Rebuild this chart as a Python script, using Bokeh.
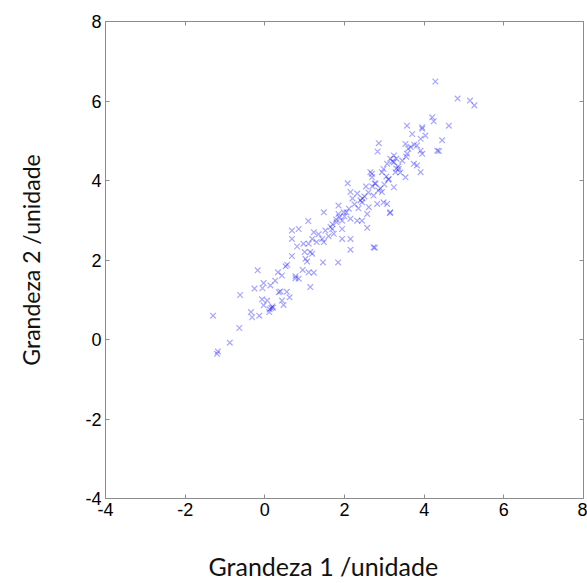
from bokeh.plotting import figure
from bokeh.models import LinearAxis, FixedTicker, Range1d, Title
from bokeh.embed import file_html
from bokeh.resources import INLINE

grandeza1 = [
    -1.20, -1.18, -1.30, -0.88, -0.64, -0.62, -0.35, -0.32, -0.14, 0.11, -0.03, -0.07, 0.06, 0.16, 0.19, 0.12,
    0.43, 0.47, 0.62, -0.26, -0.06, -0.03, 0.14, 0.26, 0.39, 0.35, -0.18, 0.33, 0.52, 0.77, 0.43, 0.77, 0.85,
    1.10, 1.23, 1.14, 0.56, 0.68, 0.81, 0.68, 0.68, 0.85, 1.02, 1.06, 1.19, 1.10, 1.19, 1.23, 1.09, 1.46, 1.84,
    1.44, 1.48, 1.52, 1.69, 1.73, 1.94, 1.79, 1.87,
    2.08, 2.69, 3.10, 2.54, 2.76, 2.15, 2.32, 2.44, 2.94, 3.07, 3.15, 2.61, 1.85, 2.11, 1.85, 1.48, 1.94, 2.32,
    2.57, 1.65, 2.15, 2.15, 2.76, 1.94, 0.97, 1.14,
    3.70, 4.03, 3.91, 4.33, 2.86, 2.83, 3.53, 3.66, 3.82, 3.57, 3.15, 3.24, 3.07, 3.45, 3.74, 3.91, 3.36, 3.28,
    2.98, 2.94, 3.11, 3.24, 2.65, 2.69, 2.78, 2.40, 2.73, 2.82, 2.98, 2.57, 1.98, 2.15, 2.44,
    4.84, 5.15, 5.26, 4.28, 4.20, 4.24, 3.95, 3.57, 4.62, 4.45, 4.37, 3.95, 3.24, 3.82, 3.53, 3.95, 3.91, 3.14, 2.73,
    3.20, 3.30, 2.05, 2.00, 2.50, 3.40, 2.90, 1.60, 2.60, 3.00, 0.20, 3.75, 3.30, 2.35, 1.80,
    1.30, 1.70, 2.25, 2.45, 2.85, 3.05, 3.35, 3.55, 0.55, 0.95, 1.35, 2.70, 3.60, 2.20, 1.00,
]
grandeza2 = [
    -0.36, -0.30, 0.60, -0.08, 0.29, 1.12, 0.69, 0.56, 0.60, 0.69, 0.86, 1.01, 0.98, 0.79, 0.83, 0.76,
    0.98, 0.87, 1.06, 1.28, 1.29, 1.42, 1.36, 1.48, 1.21, 1.19, 1.74, 1.69, 1.84, 1.54, 1.61, 1.59, 1.53,
    1.69, 1.68, 1.32, 1.88, 2.10, 2.34, 2.53, 2.74, 2.78, 2.03, 1.96, 2.16, 2.41, 2.53, 2.70, 2.98, 1.94, 1.94,
    2.53, 2.45, 2.74, 2.78, 2.66, 2.78, 3.02, 3.08,
    3.93, 4.17, 4.02, 3.85, 3.93, 3.71, 3.67, 3.45, 3.71, 3.41, 3.20, 3.33, 3.37, 3.29, 3.16, 3.20, 2.99, 2.99,
    2.81, 2.83, 2.53, 2.26, 2.31, 2.53, 2.41, 2.20,
    5.17, 5.13, 5.05, 4.75, 4.94, 4.73, 4.92, 4.84, 4.88, 4.67, 4.55, 4.46, 4.42, 4.50, 4.42, 4.21, 4.29, 4.21,
    4.29, 4.21, 4.04, 3.83, 4.21, 4.08, 3.92, 3.50, 3.62, 3.41, 3.45, 3.16, 3.20, 3.04, 2.99,
    6.06, 6.01, 5.89, 6.49, 5.59, 5.49, 5.34, 5.38, 5.38, 5.01, 4.74, 4.67, 4.63, 4.38, 4.08, 5.30, 4.75, 3.18, 2.32,
    4.48, 4.30, 3.20, 3.10, 3.60, 4.20, 3.80, 2.60, 3.70, 3.90, 0.80, 4.90, 4.55, 3.30, 2.95,
    2.45, 2.90, 3.40, 3.55, 3.75, 4.10, 4.35, 4.60, 1.20, 1.75, 2.65, 3.85, 4.80, 3.55, 2.20,
]
tick_values = [-4, -2, 0, 2, 4, 6, 8]
tick_labels = ["-4", "-2", "0", "2", "4", "6", "8"]
x_title = "Grandeza 1 /unidade"
y_title = "Grandeza 2 /unidade"

p = figure(width=587, height=583, x_range=Range1d(-4, 8), y_range=Range1d(-4, 8),
           output_backend="svg", toolbar_location=None, x_axis_location=None, y_axis_location=None,
           min_border_left=105, min_border_right=4, min_border_top=21, min_border_bottom=85)
p.xgrid.visible = False
p.ygrid.visible = False
p.outline_line_color = "#8c8c8c"
p.background_fill_color = "white"
p.border_fill_color = "white"

def style(ax, labels=True):
    ax.ticker = FixedTicker(ticks=tick_values)
    ax.minor_tick_line_color = None
    ax.major_tick_in = 4
    ax.major_tick_out = 0
    ax.axis_line_color = "#8c8c8c"
    ax.major_tick_line_color = "#8c8c8c"
    if labels:
        ax.major_label_overrides = {v: s for v, s in zip(tick_values, tick_labels)}
        ax.major_label_text_font = "Liberation Sans"
        ax.major_label_text_font_size = "18px"
        ax.major_label_text_color = "black"
        ax.major_label_standoff = 4
    else:
        ax.major_label_overrides = {v: "" for v in tick_values}
        ax.major_label_standoff = 0

bottom = LinearAxis(); style(bottom)
left = LinearAxis(); style(left)
left.axis_label = y_title
left.axis_label_text_font = "Lato"
left.axis_label_text_font_style = "normal"
left.axis_label_text_font_size = "23px"
left.axis_label_text_color = "#111111"
left.axis_label_standoff = 37
top = LinearAxis(); style(top, False)
right = LinearAxis(); style(right, False)
p.add_layout(bottom, "below")
p.add_layout(left, "left")
p.add_layout(top, "above")
p.add_layout(right, "right")

p.add_layout(Title(text=x_title, align="left", offset=103, standoff=0,
                   padding=dict(left=0, right=0, top=30, bottom=0),
                   text_font="Lato", text_font_style="normal", text_font_size="25px",
                   text_color="#111111"), "below")

p.scatter(grandeza1, grandeza2, marker="x", size=8, line_color="#0000ff", line_alpha=0.35, line_width=1.2)

open("out.html", "w").write(file_html(p, INLINE))
